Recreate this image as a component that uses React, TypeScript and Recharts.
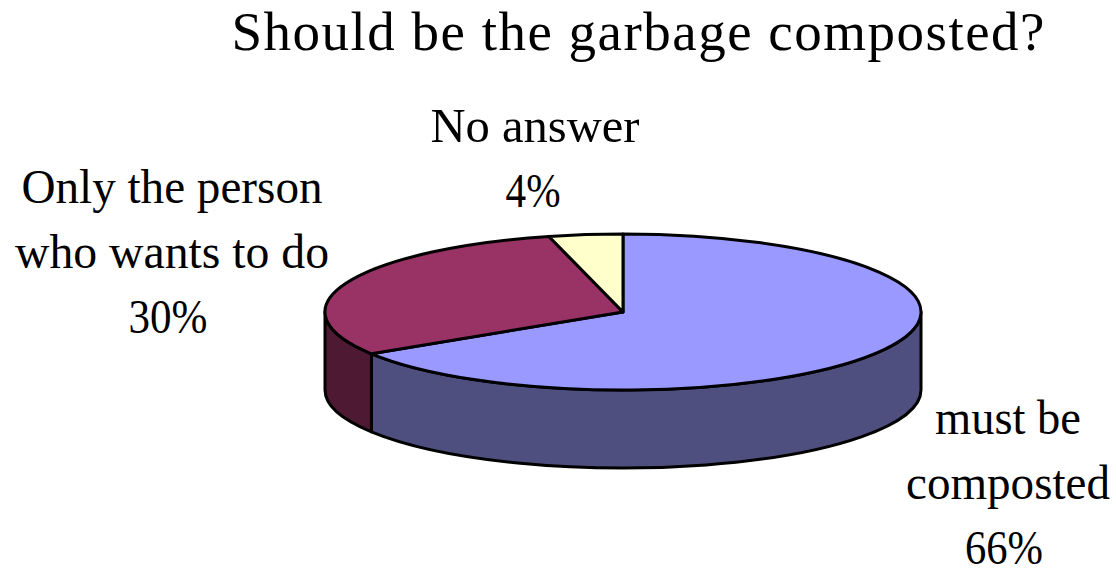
import { Pie, PieChart } from "recharts";

const TITLE = "Should be the garbage composted?";
const categories = ["must be composted", "Only the person who wants to do", "No answer"];
const values = [66, 30, 4];
const topColors = ["#9999FF", "#993366", "#FFFFCC"];
const wallColors = ["#4F4F7F", "#4D1933", "#7F7F66"];
const labelLines = [
  ["must be", "composted", "66%"],
  ["Only the person", "who wants to do", "30%"],
  ["No answer", "4%"],
];

const WIDTH = 1116;
const HEIGHT = 568;
const CX = 623;
const CY = 312;
const RX = 298;
const RY = 78;
const DEPTH = 78;
const FONT = "'Liberation Serif', serif";
const LINE_GAP = 65;

// centre x and first baseline of every label block
const labelAnchors = [
  { x: 1008, y: 434 },
  { x: 172, y: 203 },
  { x: 535, y: 142 },
];
// the source font is narrower than Liberation Serif, so each line gets its measured width
const lineWidths = [
  [146, 204, 78],
  [301, 314, 79],
  [209, 55],
];
// percent lines sit a little left of the block centre in the source
const lineShifts = [
  [0, 0, -4],
  [0, 0, -4],
  [0, -2],
];

const data = categories.map((name, i) => ({ name, value: values[i] }));

const px = (a: number) => CX + RX * Math.cos((a * Math.PI) / 180);
const py = (a: number) => CY - RY * Math.sin((a * Math.PI) / 180);

// the top face, squashed from circle to ellipse
function TopSlice(props: any) {
  const { startAngle: s, endAngle: e, index } = props;
  const large = Math.abs(s - e) > 180 ? 1 : 0;
  const d = `M${CX},${CY} L${px(s)},${py(s)} A${RX},${RY} 0 ${large} 1 ${px(e)},${py(e)} Z`;
  return <path d={d} fill={topColors[index]} stroke="#000" strokeWidth={3} strokeLinejoin="round" />;
}

// side wall, only the part in the front half of the ellipse shows
function WallSlice(props: any) {
  const { startAngle: s, endAngle: e, index } = props;
  const a1 = Math.min(s, 0);
  const a2 = Math.max(e, -180);
  if (a1 <= a2) return <g />;
  const d =
    `M${px(a1)},${py(a1)} A${RX},${RY} 0 0 1 ${px(a2)},${py(a2)} ` +
    `L${px(a2)},${py(a2) + DEPTH} A${RX},${RY} 0 0 0 ${px(a1)},${py(a1) + DEPTH} Z`;
  return <path d={d} fill={wallColors[index]} stroke="#000" strokeWidth={3} strokeLinejoin="round" />;
}

function SliceLabel(props: any) {
  const { index } = props;
  const a = labelAnchors[index];
  return (
    <g>
      {labelLines[index].map((line, i) => (
        <text
          key={line}
          x={a.x + lineShifts[index][i]}
          y={a.y + i * LINE_GAP}
          textAnchor="middle"
          fontFamily={FONT}
          fontSize={48}
          textLength={lineWidths[index][i]}
          lengthAdjust="spacingAndGlyphs"
          fill="#000"
        >
          {line}
        </text>
      ))}
    </g>
  );
}

export default function App() {
  return (
    <div style={{ position: "absolute", left: 0, top: 0, width: WIDTH, height: HEIGHT, background: "#fff" }}>
      <PieChart width={WIDTH} height={HEIGHT} margin={{ top: 0, right: 0, bottom: 0, left: 0 }}>
        <text
          x={638}
          y={50}
          textAnchor="middle"
          fontFamily={FONT}
          fontSize={55}
          textLength={813}
          lengthAdjust="spacing"
          fill="#000"
        >
          {TITLE}
        </text>
        <Pie
          data={data}
          dataKey="value"
          nameKey="name"
          cx={CX}
          cy={CY}
          outerRadius={RX}
          startAngle={90}
          endAngle={-270}
          paddingAngle={0}
          shape={WallSlice}
          isAnimationActive={false}
          legendType="none"
        />
        <Pie
          data={data}
          dataKey="value"
          nameKey="name"
          cx={CX}
          cy={CY}
          outerRadius={RX}
          startAngle={90}
          endAngle={-270}
          paddingAngle={0}
          shape={TopSlice}
          label={SliceLabel}
          labelLine={false}
          isAnimationActive={false}
          legendType="none"
        />
      </PieChart>
    </div>
  );
}
